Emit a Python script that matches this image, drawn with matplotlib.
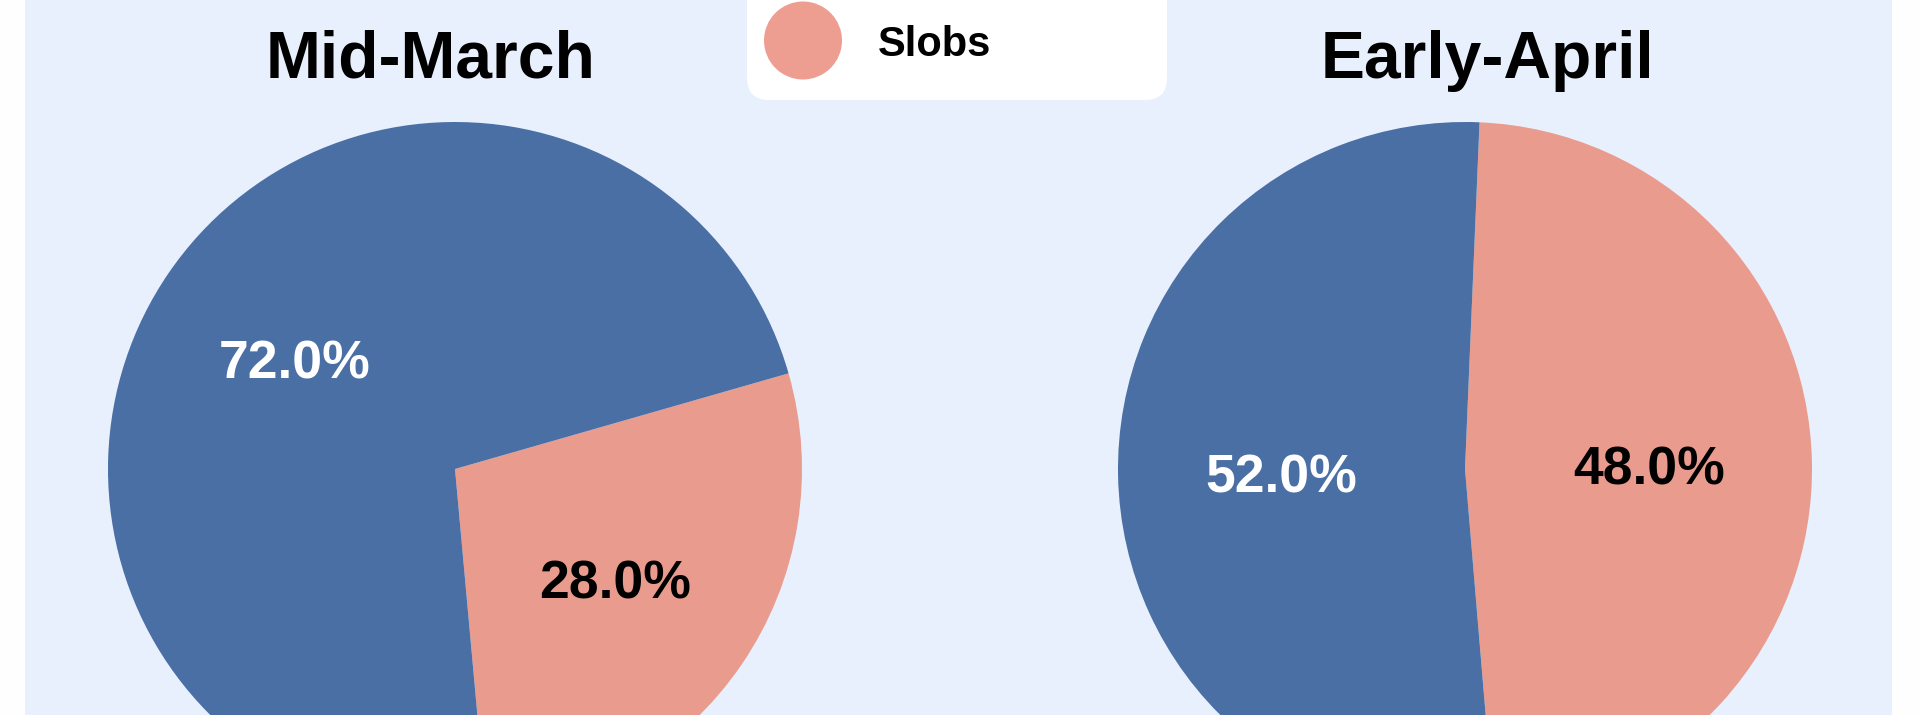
#!/usr/bin/env python3

import matplotlib
matplotlib.use("Agg")
import matplotlib.pyplot as plt
from matplotlib.patches import Circle, FancyBboxPatch, Rectangle
from matplotlib.transforms import IdentityTransform


# =========================
# Data
# =========================
PERIODS = ["Mid-March", "Early-April"]
SLOBS_SHARE = [28.0, 48.0]
OTHER_SHARE = [72.0, 52.0]
LEGEND_LABELS = ["Slobs"]

# =========================
# Style
# =========================
W, H, DPI = 1920, 715, 100
FONT = "Liberation Sans"
BLUE = "#4a6fa5"
SALMON = "#e99c8d"
MARKER_SALMON = "#ed9e90"
PANEL = "#e9f0fd"

# pie centre (px from left, px from top), radius px, start angle, title x
PIE_CENTERS = [(455, 469), (1465, 469)]
PIE_RADIUS = 347
START_ANGLES = [-84.8, -85.2]
PCT_DIST = [0.56, 0.53]
TITLE_X = [431, 1487]


def main():
    plt.rcParams["font.family"] = [FONT, "DejaVu Sans"]
    fig = plt.figure(figsize=(W / DPI, H / DPI), dpi=DPI)
    fig.patch.set_facecolor("#fefefe")

    # light blue plotting panel
    fig.patches.append(Rectangle((25 / W, 0), (1892 - 25) / W, 1,
                                 transform=fig.transFigure, facecolor=PANEL,
                                 edgecolor="none", zorder=-5))

    for i, period in enumerate(PERIODS):
        cx, cy = PIE_CENTERS[i]
        left = (cx - PIE_RADIUS) / W
        bottom = (H - cy - PIE_RADIUS) / H
        ax = fig.add_axes([left, bottom, 2 * PIE_RADIUS / W, 2 * PIE_RADIUS / H])
        ax.set_zorder(1)
        ax.patch.set_visible(False)
        wedges, texts, autotexts = ax.pie(
            [SLOBS_SHARE[i], OTHER_SHARE[i]],
            colors=[SALMON, BLUE],
            startangle=START_ANGLES[i],
            counterclock=True,
            autopct="%1.1f%%",
            pctdistance=PCT_DIST[i],
            radius=1,
            wedgeprops={"linewidth": 0},
            textprops={"fontsize": 38.5, "fontweight": "bold"},
        )
        autotexts[0].set_color("black")
        autotexts[1].set_color("white")
        for t in autotexts:
            t.set_verticalalignment("center_baseline")
        ax.set_xlim(-1, 1)
        ax.set_ylim(-1, 1)
        ax.axis("off")

        fig.text(TITLE_X[i] / W, (H - 78) / H, period, ha="center",
                 va="baseline", fontsize=47.5, fontweight="bold")

    # legend box (top part cropped by the figure edge)
    ident = IdentityTransform()
    box = FancyBboxPatch((747, H - 100), 1167 - 747, 200,
                         boxstyle="round,pad=0,rounding_size=22",
                         transform=ident, facecolor="white",
                         edgecolor="none", zorder=5)
    fig.patches.append(box)
    fig.patches.append(Circle((803, H - 40.5), 39, transform=ident,
                              facecolor=MARKER_SALMON, edgecolor="none",
                              zorder=6))
    fig.text(878 / W, (H - 40.5) / H, LEGEND_LABELS[0], ha="left",
             va="center_baseline", fontsize=30, fontweight="bold", zorder=7)

    fig.savefig("out.png", dpi=DPI)
    plt.close(fig)


if __name__ == "__main__":
    main()
